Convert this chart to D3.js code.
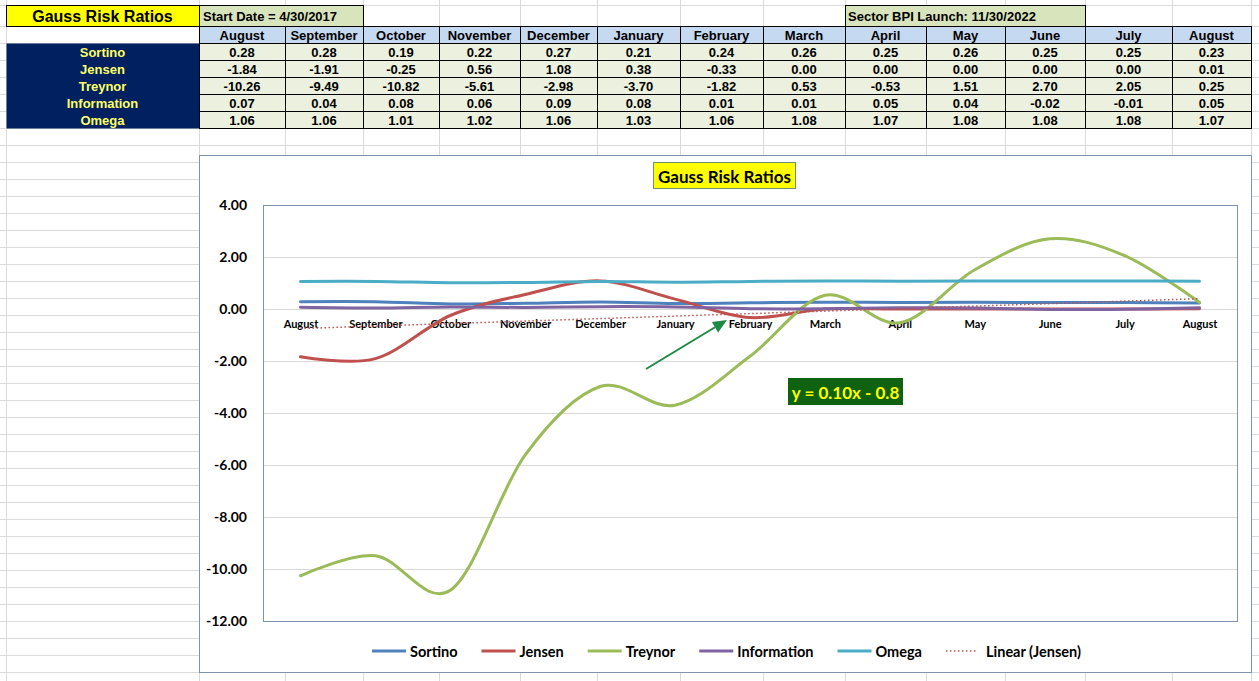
<!DOCTYPE html>
<html><head><meta charset="utf-8">
<script src="https://cdn.jsdelivr.net/npm/d3@7"></script>
<style>
html,body{margin:0;padding:0;background:#fff;}
svg{display:block;}
</style></head>
<body>
<svg id="c" width="1259" height="681"></svg>
<script>
// ---- data ----
const months = ["August","September","October","November","December","January","February","March","April","May","June","July","August"];
const seriesNames = ["Sortino","Jensen","Treynor","Information","Omega"];
const sortino = [0.28,0.28,0.19,0.22,0.27,0.21,0.24,0.26,0.25,0.26,0.25,0.25,0.23];
const jensen = [-1.84,-1.91,-0.25,0.56,1.08,0.38,-0.33,0.00,0.00,0.00,0.00,0.00,0.01];
const treynor = [-10.26,-9.49,-10.82,-5.61,-2.98,-3.70,-1.82,0.53,-0.53,1.51,2.70,2.05,0.25];
const information = [0.07,0.04,0.08,0.06,0.09,0.08,0.01,0.01,0.05,0.04,-0.02,-0.01,0.05];
const omega = [1.06,1.06,1.01,1.02,1.06,1.03,1.06,1.08,1.07,1.08,1.08,1.08,1.07];
const yTicks = [4,2,0,-2,-4,-6,-8,-10,-12];
const startDateText = "Start Date = 4/30/2017";
const launchText = "Sector BPI Launch: 11/30/2022";
const titleText = "Gauss Risk Ratios";
const trendText = "y = 0.10x - 0.8";

const seriesValues = [sortino, jensen, treynor, information, omega];
const colors = ["#4f81bd","#c0504d","#9bbb59","#8064a2","#4bacc6"];

const svg = d3.select("#c");
const W = 1259, H = 681;

// ---- spreadsheet background grid ----
const colEdges = [6,199,285,363,439,520,597,680,763,845,926,1005,1085,1172,1251];
const rowEdges = [5,26,43,60,77,94,111];
for (let y = 128; y <= H; y += 17) rowEdges.push(y);
const bg = svg.append("g");
bg.selectAll("line.v").data(colEdges).enter().append("line")
  .attr("x1", d=>d+0.5).attr("x2", d=>d+0.5).attr("y1",0).attr("y2",H)
  .attr("stroke","#dadada").attr("stroke-width",1);
bg.selectAll("line.h").data(rowEdges).enter().append("line")
  .attr("x1",0).attr("x2",W).attr("y1", d=>d+0.5).attr("y2", d=>d+0.5)
  .attr("stroke","#dadada").attr("stroke-width",1);

// ---- table ----
const tfont = "'Liberation Sans', Arial, sans-serif";
const tbl = svg.append("g").attr("font-family", tfont).attr("font-weight","bold");
function cell(x0,y0,x1,y1,fill,stroke){
  tbl.append("rect").attr("x",x0+0.5).attr("y",y0+0.5).attr("width",x1-x0).attr("height",y1-y0)
    .attr("fill",fill).attr("stroke",stroke||"none").attr("stroke-width",1);
}
function txt(x,y,s,size,fill,anchor){
  tbl.append("text").attr("x",x).attr("y",y).attr("font-size",size).attr("fill",fill)
    .attr("text-anchor",anchor||"middle").attr("dominant-baseline","central").text(s);
}
// title
cell(6,5,199,26,"#ffff00","#000");
txt(102.5,16,titleText,16,"#000");
// start date
cell(199,5,363,26,"#d8e4bc","#000");
txt(203,16,startDateText,13,"#000","start");
// launch
cell(845,5,1085,26,"#d8e4bc","#000");
txt(848,16,launchText,13,"#000","start");
// header
months.forEach((m,i)=>{
  cell(colEdges[i+1],26,colEdges[i+2],43,"#c5d9f1","#000");
  txt((colEdges[i+1]+colEdges[i+2])/2,35,m,13,"#000");
});
// label column
cell(6,43,199,128,"#002060",null);
seriesNames.forEach((n,r)=>{
  txt(102.5,52+r*17,n,13,"#ffff66");
  seriesValues[r].forEach((v,i)=>{
    cell(colEdges[i+1],43+r*17,colEdges[i+2],60+r*17,"#ebf1de","#000");
    txt((colEdges[i+1]+colEdges[i+2])/2,52+r*17,d3.format(".2f")(v).replace("−","-"),13,"#000");
  });
});

// ---- chart ----
const cfont = "Lato, 'Open Sans', sans-serif";
const ch = svg.append("g").attr("font-family", cfont).attr("font-weight","bold");
ch.append("rect").attr("x",199.5).attr("y",155.5).attr("width",1052).attr("height",517)
  .attr("fill","#fff").attr("stroke","#7f93aa").attr("stroke-width",1);

const px0 = 263, px1 = 1237, py0 = 205, py1 = 621;
const x = d3.scalePoint().domain(d3.range(months.length)).range([px0,px1]).padding(0.5);
const y = d3.scaleLinear().domain([-12,4]).range([py1,py0]);

// gridlines
ch.append("g").selectAll("line").data(yTicks).enter().append("line")
  .attr("x1",px0).attr("x2",px1).attr("y1",d=>Math.round(y(d))+0.5).attr("y2",d=>Math.round(y(d))+0.5)
  .attr("stroke","#d9d9d9").attr("stroke-width",1);
// plot border
ch.append("rect").attr("x",px0+0.5).attr("y",py0+0.5).attr("width",px1-px0).attr("height",py1-py0)
  .attr("fill","none").attr("stroke","#7f93aa").attr("stroke-width",1);

// y axis
const yAxis = d3.axisLeft(y).tickValues(yTicks).tickSize(0).tickPadding(16)
  .tickFormat(d=>d3.format(".2f")(d).replace("−","-"));
const ya = ch.append("g").attr("transform",`translate(${px0},0)`).call(yAxis);
ya.select(".domain").remove();
ya.selectAll("text").attr("font-family",cfont).attr("font-weight","bold").attr("font-size",14).attr("fill","#000");

// x labels (at zero line)
const xAxis = d3.axisBottom(x).tickSize(0).tickPadding(10).tickFormat(i=>months[i]);
const xa = ch.append("g").attr("transform",`translate(0,${y(0)+1})`).call(xAxis);
xa.select(".domain").remove();
xa.selectAll("text").attr("font-family",cfont).attr("font-weight","bold").attr("font-size",11).attr("fill","#000");

// series
const line = d3.line().x((d,i)=>x(i)).y(d=>y(d)).curve(d3.curveCatmullRom.alpha(0));
seriesValues.forEach((vals,k)=>{
  ch.append("path").datum(vals).attr("d",line).attr("fill","none")
    .attr("stroke",colors[k]).attr("stroke-width",3).attr("stroke-linejoin","round").attr("stroke-linecap","round");
});

// linear trendline of Jensen
const n = jensen.length;
const xs = d3.range(1,n+1);
const mx = d3.mean(xs), my = d3.mean(jensen);
const slope = d3.sum(xs.map((xv,i)=>(xv-mx)*(jensen[i]-my))) / d3.sum(xs.map(xv=>(xv-mx)*(xv-mx)));
const icpt = my - slope*mx;
ch.append("line").attr("x1",x(0)).attr("x2",x(n-1))
  .attr("y1",y(icpt+slope*1)).attr("y2",y(icpt+slope*n))
  .attr("stroke","#c0504d").attr("stroke-width",1.5).attr("stroke-dasharray","1.5,2.5");

// chart title
ch.append("rect").attr("x",653.5).attr("y",162.5).attr("width",142).attr("height",26)
  .attr("fill","#ffff00").attr("stroke","#6f8f6f").attr("stroke-width",1);
ch.append("text").attr("x",724.5).attr("y",176).attr("text-anchor","middle").attr("dominant-baseline","central")
  .attr("font-size",17).attr("fill","#000").text(titleText);

// trend label
ch.append("rect").attr("x",788).attr("y",378).attr("width",115).attr("height",27).attr("fill","#0f620f");
ch.append("text").attr("x",845.5).attr("y",392).attr("text-anchor","middle").attr("dominant-baseline","central")
  .attr("font-size",17).attr("fill","#ffff00").text(trendText);

// arrow
const ax0=646, ay0=369, ax1=727, ay1=320;
const ang = Math.atan2(ay1-ay0, ax1-ax0);
const hl = 14, hw = 6;
const bx = ax1 - hl*Math.cos(ang), by = ay1 - hl*Math.sin(ang);
ch.append("line").attr("x1",ax0).attr("y1",ay0).attr("x2",bx).attr("y2",by)
  .attr("stroke","#1d8a45").attr("stroke-width",2);
ch.append("path").attr("d",`M${ax1},${ay1}L${bx+hw*Math.sin(ang)},${by-hw*Math.cos(ang)}L${bx-hw*Math.sin(ang)},${by+hw*Math.cos(ang)}Z`)
  .attr("fill","#1d8a45");

// legend
const legItems = seriesNames.map((s,k)=>({name:s,color:colors[k],dash:null}))
  .concat([{name:"Linear (Jensen)",color:"#c0504d",dash:true}]);
const leg = ch.append("g");
const ly = 651;
let cx = 0;
const gItems = legItems.map(it=>{
  const g = leg.append("g");
  if (it.dash) {
    g.append("line").attr("x1",0).attr("x2",32).attr("y1",ly).attr("y2",ly)
      .attr("stroke",it.color).attr("stroke-width",1.5).attr("stroke-dasharray","1.5,2.5");
  } else {
    g.append("line").attr("x1",0).attr("x2",34).attr("y1",ly).attr("y2",ly)
      .attr("stroke",it.color).attr("stroke-width",3);
  }
  const t = g.append("text").attr("x",it.dash?40:38).attr("y",ly).attr("dominant-baseline","central")
    .attr("font-size",14.5).attr("fill","#000").text(it.name);
  const w = (it.dash?40:38) + t.node().getComputedTextLength();
  return {g,w};
});
const gap = 24;
const total = d3.sum(gItems,d=>d.w) + gap*(gItems.length-1);
cx = 726.5 - total/2;
gItems.forEach(d=>{ d.g.attr("transform",`translate(${cx},0)`); cx += d.w + gap; });
</script>
</body></html>
